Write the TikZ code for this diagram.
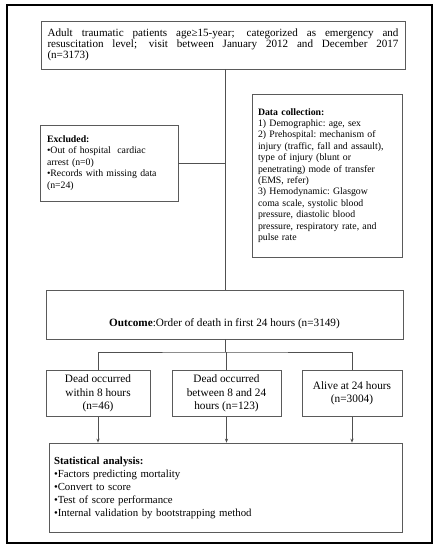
\documentclass[tikz,border=0pt]{standalone}
\usepackage{fontspec}
\setmainfont{Liberation Serif}
\usetikzlibrary{arrows.meta}
\newcommand{\setfs}[2]{\fontsize{#1}{#2}\selectfont}
\definecolor{boxgray}{HTML}{5A5A5A}
\definecolor{linegray}{HTML}{505050}
\begin{document}
\begin{tikzpicture}[x=1pt,y=-1pt,
  box/.style={draw=boxgray, line width=0.7pt, rectangle, inner sep=0pt, align=left, text=black},
  frame/.style={draw=black, line width=2pt, rectangle, inner sep=0pt},
  conn/.style={draw=linegray, line width=0.7pt},
  arr/.style={conn, -{Stealth[length=4pt,width=3.2pt]}}]
\useasboundingbox (0,0) rectangle (438,550);
\node[frame, minimum width=425, minimum height=538] (frame) at (219.5,274) {};
\node[box, minimum width=364, minimum height=48, text width=351, align=justify, font=\setfs{11.1}{11.2}] (top) at (223,45)
 {Adult traumatic patients age≥15-year; categorized as emergency and\linebreak
  resuscitation level; visit between January 2012 and December 2017\linebreak
  (n=3173)};
\node[box, minimum width=138, minimum height=76, text width=124, font=\setfs{9.8}{11.5}] (excl) at (109,163)
 {\textbf{Excluded:}\\
  \textbullet Out of hospital\ \ cardiac\\
  arrest (n=0)\\
  \textbullet Records with missing data\\
  (n=24)};
\node[box, minimum width=150, minimum height=163, text width=138, font=\setfs{9.8}{11.4}] (data) at (327,175.5)
 {\textbf{Data collection:}\\
  1) Demographic:\ age, sex\\
  2) Prehospital:\ mechanism of\\
  injury (traffic,\ fall and assault),\\
  type of injury\ (blunt or\\
  penetrating)\ mode of transfer\\
  (EMS, refer)\\
  3) Hemodynamic:\ Glasgow\\
  coma scale,\ systolic\ blood\\
  pressure,\ diastolic blood\\
  pressure,\ respiratory rate,\ and\\
  pulse rate};
\node[box, minimum width=357, minimum height=49, align=center, font=\setfs{11.2}{13}] (out) at (224.5,314.5)
 {\raisebox{-9pt}[\height][\depth]{\textbf{Outcome}:Order of death in first 24 hours (n=3149)}};
\node[box, minimum width=104, minimum height=46, align=center, font=\setfs{11.3}{13.5}] (d1) at (98,393.5)
 {Dead occurred\\ within 8 hours\\ (n=46)};
\node[box, minimum width=109, minimum height=46, align=center, font=\setfs{11.3}{13.5}] (d2) at (226.5,393.5)
 {Dead occurred\\ between 8 and 24\\ hours (n=123)};
\node[box, minimum width=100, minimum height=46, align=center, font=\setfs{11.3}{13.5}] (d3) at (352,393.5)
 {Alive at 24 hours\\ (n=3004)};
\node[box, minimum width=353, minimum height=89, text width=343, font=\setfs{10.8}{13}] (stat) at (225.5,487.5)
 {\textbf{Statistical analysis:}\\
  \textbullet Factors predicting\ mortality\\
  \textbullet Convert to score\\
  \textbullet Test of score performance\\
  \textbullet Internal validation by bootstrapping method};
\coordinate (trunk) at (225,0);
\coordinate (br) at (225,352);
\draw[conn] (top.south -| trunk) -- (out.north -| trunk);
\draw[conn] (excl.east) -- (excl.east -| trunk);
\draw[conn] (out.south -| trunk) -- (br);
\draw[conn] (d1.north) |- (br) -| (d3.north);
\draw[conn] (d2.north) -- (d2.north |- br);
\draw[arr] (d1.south) -- (d1.south |- stat.north);
\draw[arr] (d2.south) -- (d2.south |- stat.north);
\draw[arr] (d3.south) -- (d3.south |- stat.north);
\end{tikzpicture}
\end{document}
